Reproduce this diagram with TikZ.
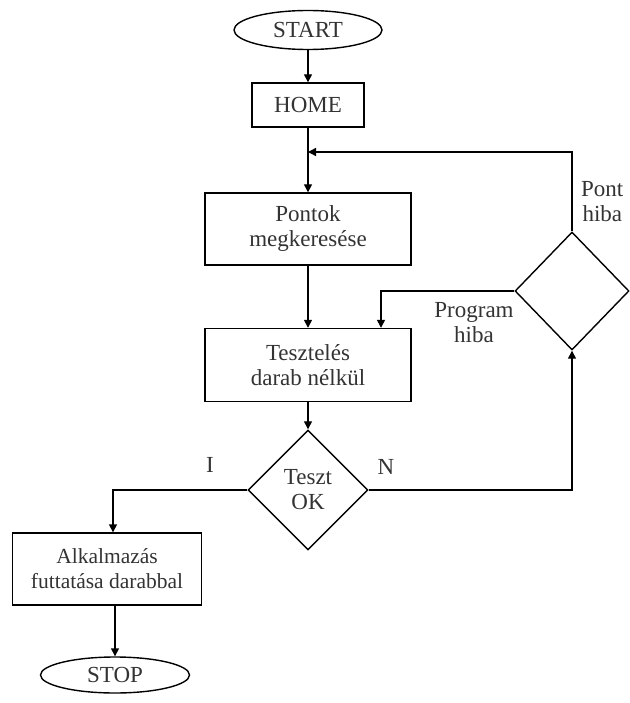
\documentclass[tikz,border=0pt]{standalone}
\usepackage{fontspec}
\setmainfont{Liberation Serif}
\usetikzlibrary{shapes.geometric,arrows.meta}
\begin{document}
\begin{tikzpicture}[x=1pt,y=-1pt,
  every node/.style={font=\fontsize{23}{25}\selectfont, text=black!80},
  box/.style={draw, line width=1.4pt, rectangle, inner sep=0pt, align=center},
  term/.style={draw, line width=1.4pt, ellipse, inner sep=0pt},
  dec/.style={draw, line width=1.4pt, diamond, inner sep=0pt, align=center},
  lab/.style={align=center, inner sep=0pt},
  conn/.style={line width=1.4pt, -{Triangle[length=8pt,width=8pt]}},
  line/.style={line width=1.4pt}]
\useasboundingbox (0,0) rectangle (629,703);
\node[term, minimum width=148pt, minimum height=39pt] (start) at (308,30) {START};
\node[box, minimum width=112pt, minimum height=44pt] (home) at (308,105) {HOME};
\node[box, minimum width=206pt, minimum height=72pt] (pont) at (308,229) {Pontok\\megkeresése};
\node[box, minimum width=206pt, minimum height=73pt] (test) at (308,365) {Tesztelés\\darab nélkül};
\node[dec, minimum width=120pt, minimum height=120pt] (ok) at (308,490) {Teszt\\OK};
\node[dec, minimum width=114pt, minimum height=118pt] (err) at (572,291) {};
\node[box, minimum width=189pt, minimum height=72pt, font=\fontsize{21.5}{25}\selectfont] (app) at (107,569) {Alkalmazás\\futtatása darabbal};
\node[term, minimum width=149pt, minimum height=36pt] (stop) at (115,675) {STOP};
\coordinate (join) at (308,152);
\node[lab] (li) at (210,465) {I};
\node[lab] (ln) at (386,467) {N};
\node[lab, anchor=west] (lpont) at (581,202) {Pont\\hiba};
\node[lab] (lprog) at (474,323) {Program\\hiba};
\draw[conn] (start) -- (home);
\draw[conn] (home) -- (pont);
\draw[conn] (pont) -- (test);
\draw[conn] (test) -- (ok);
\draw[conn] (ok.west) -| (app.north -| 113,0);
\draw[conn] (app.south -| stop.north) -- (stop);
\draw[conn] (ok.east) -| (err.south);
\draw[conn] (err.north) |- (join);
\draw[conn] (err.west) -| (test.north -| 381,0);
\end{tikzpicture}
\end{document}
